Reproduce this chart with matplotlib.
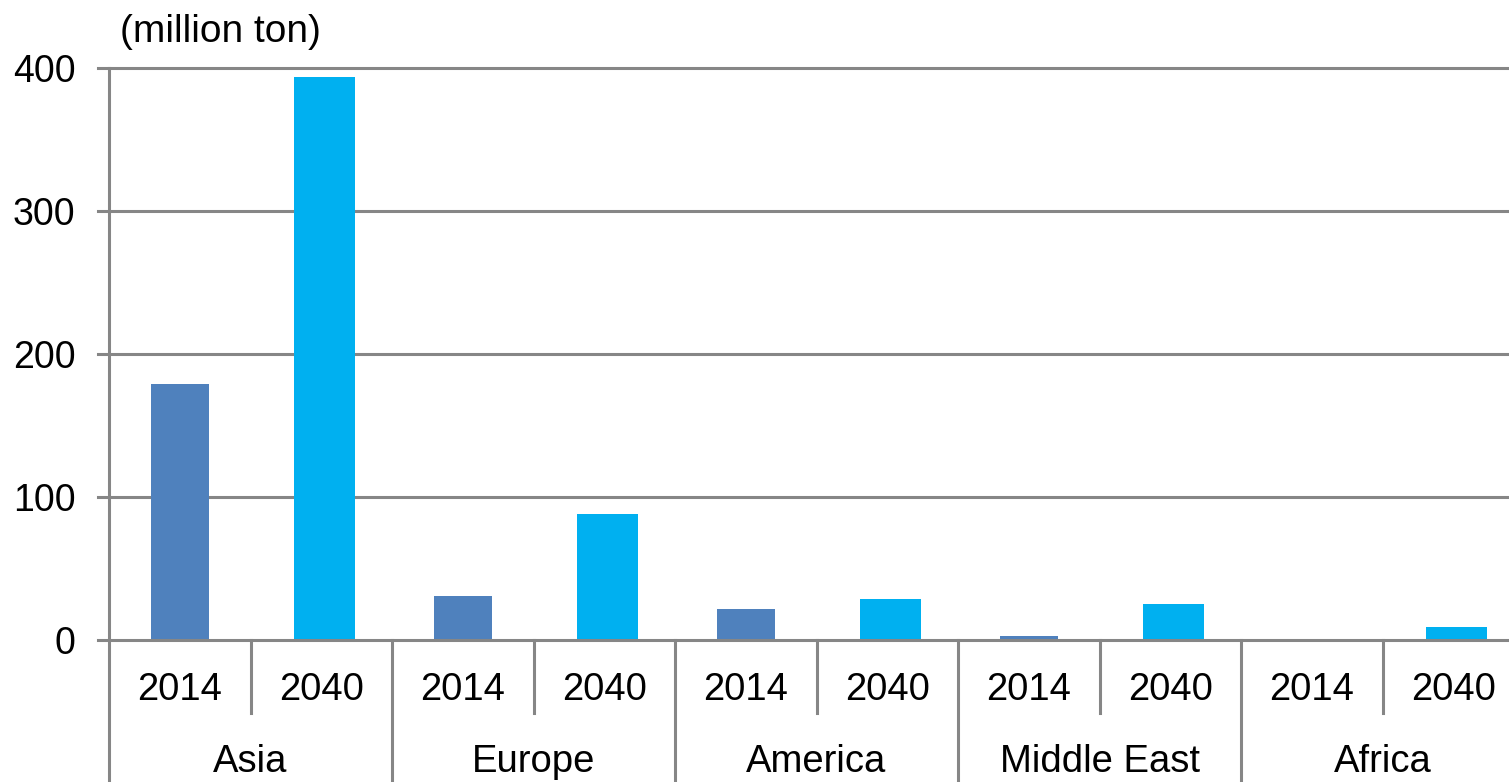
import matplotlib
matplotlib.use("Agg")
import matplotlib.pyplot as plt
import matplotlib.transforms as mtransforms
from matplotlib.lines import Line2D

# ---- data ----
regions = ["Asia", "Europe", "America", "Middle East", "Africa"]
years = ["2014", "2040"]
values_2014 = [179, 31, 22, 3, 0]
values_2040 = [394, 88, 29, 25, 9]
yticks = [0, 100, 200, 300, 400]
unit_label = "(million ton)"

# ---- style ----
c2014 = "#4F81BD"
c2040 = "#00B0F0"
grid_c = "#868686"
font = ["Liberation Sans", "DejaVu Sans"]
plt.rcParams["font.family"] = font

W, H = 1509, 782
fig = plt.figure(figsize=(W / 100, H / 100), dpi=100)
ax_left = 109 / W
ax_right = 1524 / W
ax_bottom = (H - 640) / H
ax_top = (H - 68) / H
ax = fig.add_axes([ax_left, ax_bottom, ax_right - ax_left, ax_top - ax_bottom])

n = len(regions)
x14 = [2 * i for i in range(n)]
x40 = [2 * i + 1.02 for i in range(n)]
overhang = 3.5  # 2040 bars drawn slightly below the baseline, as in the reference

ax.bar(x14, values_2014, width=0.41, color=c2014, zorder=2, linewidth=0)
ax.bar(x40, [v + overhang for v in values_2040], bottom=-overhang, width=0.43,
       color=c2040, zorder=2, linewidth=0)

ax.set_xlim(-0.5, 2 * n - 0.5)
ax.set_ylim(0, 400)
ax.set_yticks(yticks)
ax.set_xticks([])
for s in ax.spines.values():
    s.set_visible(False)

ax.tick_params(axis="y", length=0, pad=24, labelsize=27)
span_px = 1524 - 109
for t in yticks:
    ax.axhline(t, color=grid_c, lw=2.2, zorder=1 if t != 0 else 3,
               xmin=-11 / span_px, xmax=1, clip_on=False)

# vertical axis line and category dividers
trans = mtransforms.blended_transform_factory(ax.transData, fig.transFigure)
fig.add_artist(Line2D([-0.5, -0.5], [0, ax_top], transform=trans,
                      color=grid_c, lw=2.2))
for i in range(n):
    fig.add_artist(Line2D([2 * i + 0.5] * 2, [ax_bottom, (H - 713) / H],
                          transform=trans, color=grid_c, lw=2.2))
    if i > 0:
        fig.add_artist(Line2D([2 * i - 0.5] * 2, [ax_bottom, 0],
                              transform=trans, color=grid_c, lw=2.2))

# category labels
for i, r in enumerate(regions):
    for j, y in enumerate(years):
        fig.text(2 * i + j, (H - 690) / H, y, transform=trans, fontsize=27.5,
                 ha="center", va="center")
    fig.text(2 * i + 0.5, (H - 762) / H, r, transform=trans, fontsize=27.5,
             ha="center", va="center")

fig.text(120 / W, (H - 32) / H, unit_label, fontsize=28, ha="left", va="center")

fig.savefig("out.png", dpi=100)
